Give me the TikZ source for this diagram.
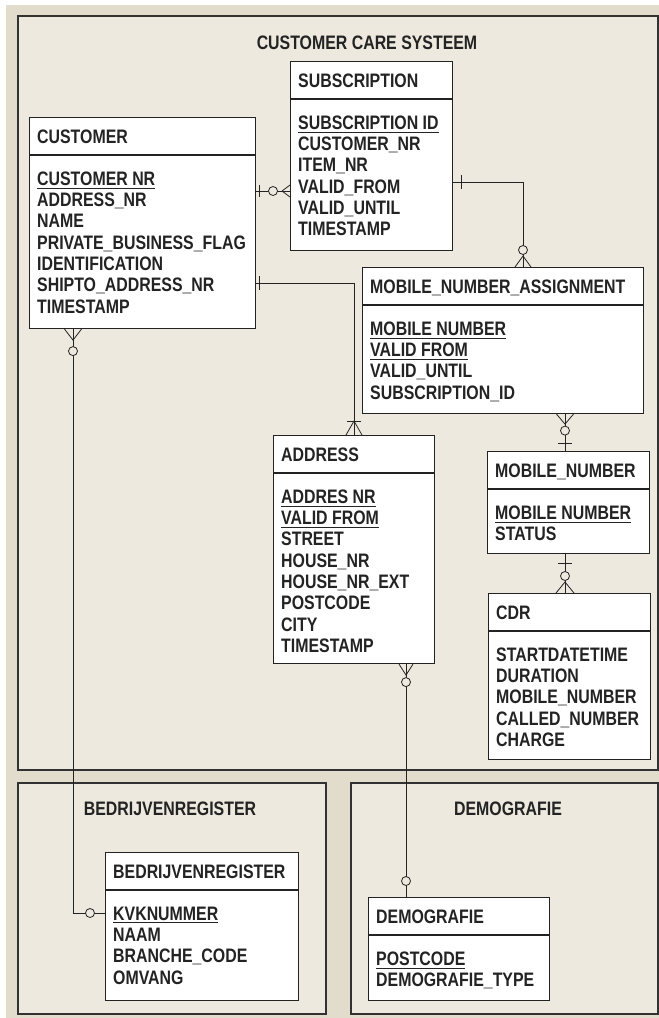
\documentclass[tikz,border=0pt]{standalone}
\usepackage{fontspec}
\setmainfont{Liberation Sans}[FakeStretch=0.815,UprightFont=*-Bold]
\definecolor{outerbg}{RGB}{226,220,204}
\definecolor{panelbg}{RGB}{237,233,223}
\definecolor{edgegray}{RGB}{50,50,50}
\definecolor{inkgray}{RGB}{35,35,35}
\newcommand\pkey[1]{\setbox0\hbox{#1}\rlap{\rule[-3pt]{\wd0}{0.8pt}}\box0}
\newcommand\erbox[7]{%
  \node[ebox, minimum width=#4pt, minimum height=#5pt, anchor=north west] (#1) at (#2,#3) {};
  \draw[eline] ([yshift=-38pt]#1.north west) -- ([yshift=-38pt]#1.north east);
  \node[etext, anchor=base west] (#1h) at ([xshift=8pt,yshift=-26.5pt]#1.north west) {#6};
  \node[etext, anchor=north west, align=left] (#1a) at ([xshift=8pt,yshift=-54.5pt]#1.north west) {#7};
}
\begin{document}
\begin{tikzpicture}[x=1pt,y=-1pt,
  ebox/.style={draw=inkgray, line width=1.1pt, fill=white, inner sep=0pt, rectangle},
  eline/.style={draw=inkgray, line width=1.1pt},
  etext/.style={inner sep=0pt, text=inkgray, font=\fontsize{19.5}{21.3}\selectfont},
  panel/.style={draw=edgegray, line width=1.5pt, fill=panelbg},
  conn/.style={draw=inkgray, line width=0.8pt},
  ttl/.style={inner sep=0pt, text=inkgray, font=\fontsize{19.5}{21.3}\selectfont, anchor=base}]
\useasboundingbox (0,0) rectangle (659,1018);
\fill[white] (0,0) rectangle (659,1018);
\fill[outerbg] (6,5) rectangle (659,1018);
\draw[panel] (18,16) rectangle (658,770);
\draw[panel] (18,783) rectangle (326,1014);
\draw[panel] (351,783) rectangle (658,1014);

\node[ttl] (t1) at (367,49) {CUSTOMER CARE SYSTEEM};
\node[ttl] (t2) at (170,815) {BEDRIJVENREGISTER};
\node[ttl] (t3) at (508,815) {DEMOGRAFIE};

\erbox{cust}{29}{117}{226}{211}{CUSTOMER}{\pkey{CUSTOMER NR}\\ADDRESS\_NR\\NAME\\PRIVATE\_BUSINESS\_FLAG\\IDENTIFICATION\\SHIPTO\_ADDRESS\_NR\\TIMESTAMP}
\erbox{sub}{290}{61}{162}{189}{SUBSCRIPTION}{\pkey{SUBSCRIPTION ID}\\CUSTOMER\_NR\\ITEM\_NR\\VALID\_FROM\\VALID\_UNTIL\\TIMESTAMP}
\erbox{mna}{362}{267}{281}{146}{MOBILE\_NUMBER\_ASSIGNMENT}{\pkey{MOBILE NUMBER}\\\pkey{VALID FROM}\\VALID\_UNTIL\\SUBSCRIPTION\_ID}
\erbox{addr}{273}{435}{161}{228}{ADDRESS}{\pkey{ADDRES NR}\\\pkey{VALID FROM}\\STREET\\HOUSE\_NR\\HOUSE\_NR\_EXT\\POSTCODE\\CITY\\TIMESTAMP}
\erbox{mobnr}{487}{451}{162}{102}{MOBILE\_NUMBER}{\pkey{MOBILE NUMBER}\\STATUS}
\erbox{cdr}{488}{593}{162}{166}{CDR}{STARTDATETIME\\DURATION\\MOBILE\_NUMBER\\CALLED\_NUMBER\\CHARGE}
\erbox{bedr}{105}{852}{193}{148}{BEDRIJVENREGISTER}{\pkey{KVKNUMMER}\\NAAM\\BRANCHE\_CODE\\OMVANG}
\erbox{demo}{368}{897}{181}{103}{DEMOGRAFIE}{\pkey{POSTCODE}\\DEMOGRAFIE\_TYPE}

% 1 customer -- subscription
\coordinate (c1a) at ([yshift=-74pt]cust.north east);
\coordinate (c1b) at (sub.west |- c1a);
\draw[conn] (c1a) -- (c1b);
\draw[conn] ([xshift=3pt]c1a) +(0,-6) -- +(0,6);
\draw[conn, fill=panelbg] ([xshift=-17pt]c1b) circle (4.5pt);
\draw[conn] ([xshift=-8pt]c1b) -- ([yshift=-6pt]c1b) ([xshift=-8pt]c1b) -- ([yshift=6pt]c1b);

% 2 customer -- address
\coordinate (c2a) at ([yshift=-166pt]cust.north east);
\coordinate (c2b) at ([xshift=81pt]addr.north west);
\draw[conn] (c2a) -| (c2b);
\draw[conn] ([xshift=3pt]c2a) +(0,-7) -- +(0,7);
\draw[conn] ([yshift=14pt]c2b) +(-7,0) -- +(7,0);
\draw[conn] ([xshift=-8pt]c2b) -- ([yshift=14pt]c2b) -- ([xshift=8pt]c2b);

% 3 subscription -- mobile number assignment
\coordinate (c3a) at ([yshift=-121pt]sub.north east);
\coordinate (c3b) at ([xshift=161pt]mna.north west);
\draw[conn] (c3a) -| (c3b);
\draw[conn] ([xshift=8pt]c3a) +(0,-7) -- +(0,7);
\draw[conn, fill=panelbg] ([yshift=17pt]c3b) circle (4.5pt);
\draw[conn] ([xshift=-8pt]c3b) -- ([yshift=11pt]c3b) -- ([xshift=8pt]c3b);

% 4 mobile number assignment -- mobile number
\coordinate (c4a) at ([xshift=203pt]mna.south west);
\coordinate (c4b) at (c4a |- mobnr.north);
\draw[conn] (c4a) -- (c4b);
\draw[conn] ([xshift=-8.5pt]c4a) -- ([yshift=-10pt]c4a) -- ([xshift=8.5pt]c4a);
\draw[conn, fill=panelbg] ([yshift=-16.5pt]c4a) circle (4.5pt);
\draw[conn] ([yshift=8pt]c4b) +(-7,0) -- +(7,0);

% 5 mobile number -- cdr
\coordinate (c5a) at (c4b |- mobnr.south);
\coordinate (c5b) at (c5a |- cdr.north);
\draw[conn] (c5a) -- (c5b);
\draw[conn] ([yshift=-9pt]c5a) +(-7,0) -- +(7,0);
\draw[conn, fill=panelbg] ([yshift=17pt]c5b) circle (4.5pt);
\draw[conn] ([xshift=-9pt]c5b) -- ([yshift=11pt]c5b) -- ([xshift=9pt]c5b);

% 6 customer -- bedrijvenregister
\coordinate (c6a) at ([xshift=44pt]cust.south west);
\coordinate (c6b) at ([yshift=-61pt]bedr.north west);
\draw[conn] (c6a) |- (c6b);
\draw[conn] ([xshift=-8.5pt]c6a) -- ([yshift=-11pt]c6a) -- ([xshift=8.5pt]c6a);
\draw[conn, fill=panelbg] ([yshift=-22pt]c6a) circle (4.5pt);
\draw[conn, fill=panelbg] ([xshift=-15pt]c6b) circle (4.5pt);

% 7 address -- demografie
\coordinate (c7a) at ([xshift=133pt]addr.south west);
\coordinate (c7b) at (c7a |- demo.north);
\draw[conn] (c7a) -- (c7b);
\draw[conn] ([xshift=-7pt]c7a) -- ([yshift=-11pt]c7a) -- ([xshift=7pt]c7a);
\draw[conn, fill=panelbg] ([yshift=-18pt]c7a) circle (4.5pt);
\draw[conn, fill=panelbg] ([yshift=16pt]c7b) circle (4.5pt);
\end{tikzpicture}
\end{document}
